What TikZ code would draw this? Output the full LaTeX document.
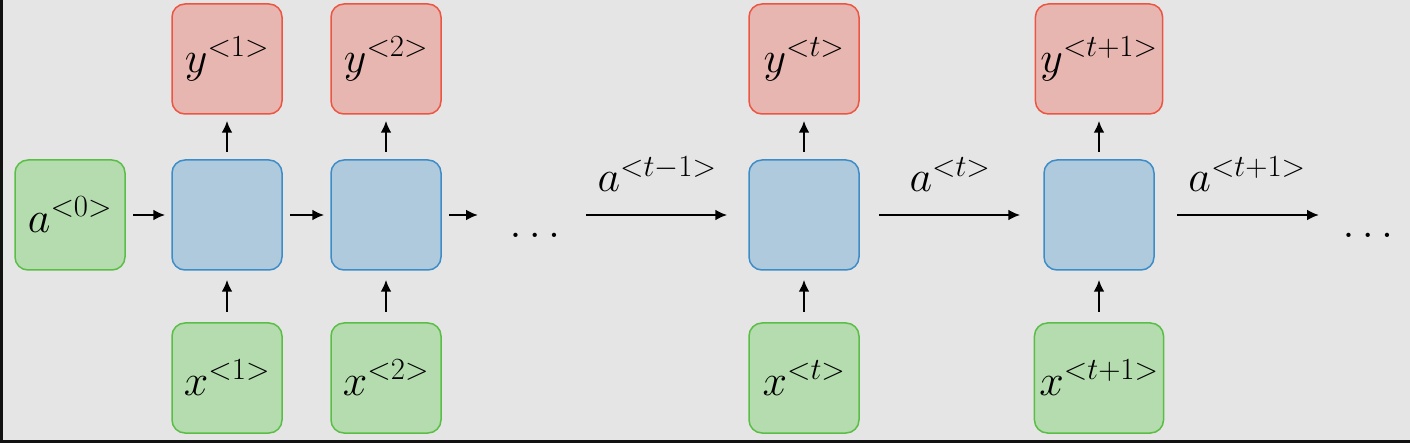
\RequirePackage{fix-cm}
\documentclass[tikz,border=0pt]{standalone}
\usetikzlibrary{arrows.meta}
\definecolor{bggray}{HTML}{E5E5E5}
\definecolor{edgedark}{HTML}{121212}
\definecolor{greenfill}{HTML}{B4DCAE}
\definecolor{greenline}{HTML}{5ABE46}
\definecolor{redfill}{HTML}{E8B6B0}
\definecolor{redline}{HTML}{EB5541}
\definecolor{bluefill}{HTML}{B0CADD}
\definecolor{blueline}{HTML}{3C8CC8}
\tikzstyle{inbox}=[draw=greenline,fill=greenfill,line width=1.5pt,rounded corners=13pt,minimum width=110pt,minimum height=110pt,inner sep=5pt]
\tikzstyle{outbox}=[draw=redline,fill=redfill,line width=1.5pt,rounded corners=13pt,minimum width=110pt,minimum height=110pt,inner sep=5pt]
\tikzstyle{rnncell}=[draw=blueline,fill=bluefill,line width=1.5pt,rounded corners=13pt,minimum width=110pt,minimum height=110pt]
\tikzstyle{link}=[<-,line width=2.5pt,shorten <=6pt,shorten >=7pt]

\begin{document}
\begin{tikzpicture}[x=1pt,y=-1pt,>={Latex[length=12pt,width=11pt]},font=\fontsize{44}{50}\selectfont]
  \useasboundingbox (0,0) rectangle (1410,443);
  \fill[bggray] (0,0) rectangle (1410,443);
  \fill[edgedark] (0,0) rectangle (3,443);
  \fill[edgedark] (0,440) rectangle (1410,443);

  % first steps
  \node[inbox] (a0) at (70,215) {$a^{<0>}$};
  \node[inbox] (x1) at (227,378) {$x^{<1>}$};
  \node[rnncell] (c1) at (227,215) {}
    edge [link] (a0)
    edge [link,shorten <=9pt,shorten >=10pt] (x1);
  \node[outbox] (y1) at (227,59) {$y^{<1>}$}
    edge [link] (c1);
  \node[inbox] (x2) at (386,378) {$x^{<2>}$};
  \node[rnncell] (c2) at (386,215) {}
    edge [link] (c1)
    edge [link,shorten <=9pt,shorten >=10pt] (x2);
  \node[outbox] (y2) at (386,59) {$y^{<2>}$}
    edge [link] (c2);
  \coordinate (e2) at (484,215);
  \draw[link] (e2) -- (c2);
  \node (d1) at (535,235) {$\ldots$};

  % steps t and t+1
  \coordinate (s1) at (586,215);
  \node[inbox] (xt) at (804,378) {$x^{<t>}$};
  \node[rnncell] (ct) at (804,215) {}
    edge [link,shorten <=21pt,shorten >=0pt] (s1)
    edge [link,shorten <=9pt,shorten >=10pt] (xt);
  \node[outbox] (yt) at (804,59) {$y^{<t>}$}
    edge [link] (ct);
  \node[inbox] (xt1) at (1099,378) {$x^{<t+1>}$};
  \node[rnncell] (ct1) at (1099,215) {}
    edge [link,shorten <=23pt,shorten >=19pt] (ct)
    edge [link,shorten <=9pt,shorten >=10pt] (xt1);
  \node[outbox] (yt1) at (1099,59) {$y^{<t+1>}$}
    edge [link] (ct1);
  \coordinate (e3) at (1319,215);
  \draw[link,shorten <=0pt,shorten >=22pt] (e3) -- (ct1);
  \node (d2) at (1368,235) {$\ldots$};

  % state labels
  \node[anchor=base] (lt0) at (657,192) {$a^{<t-1>}$};
  \node[anchor=base] (lt) at (950,192) {$a^{<t>}$};
  \node[anchor=base] (lt1) at (1247,192) {$a^{<t+1>}$};
\end{tikzpicture}
\end{document}
